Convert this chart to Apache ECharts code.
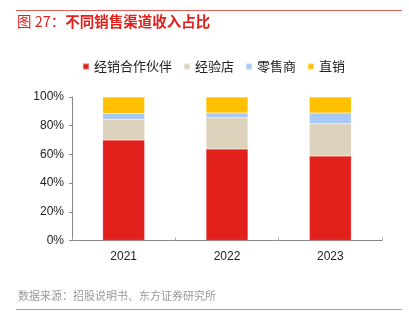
<!DOCTYPE html>
<html>
<head>
<meta charset="utf-8">
<script src="https://cdn.jsdelivr.net/npm/echarts@6/dist/echarts.min.js"></script>
<style>
  html, body { margin: 0; padding: 0; background: #fff; }
  #chart { width: 409px; height: 331px; }
</style>
</head>
<body>
<div id="chart"></div>
<script>
// 不同销售渠道收入占比 (%)
const years = ['2021', '2022', '2023'];
const dealerPartners = [70.0, 63.8, 58.9];   // 经销合作伙伴
const experienceStores = [14.5, 21.8, 22.5]; // 经验店
const retailers = [4.1, 3.3, 7.5];           // 零售商
const directSales = [11.4, 11.1, 11.1];      // 直销
const yTicks = [0, 20, 40, 60, 80, 100];

const seriesNames = ['经销合作伙伴', '经验店', '零售商', '直销'];
const seriesData = [dealerPartners, experienceStores, retailers, directSales];
const colors = ['#E2211C', '#DDD3BD', '#A8C9F6', '#FFC000'];

const fontCN = '"Noto Sans CJK SC", "Noto Sans", sans-serif';
const fontNum = '"Liberation Sans", Arial, sans-serif';

const chart = echarts.init(document.getElementById('chart'));
chart.setOption({
  animation: false,
  backgroundColor: '#fff',
  color: colors,
  legend: {
    top: 55,
    left: 77,
    itemWidth: 6,
    itemHeight: 6,
    itemGap: 11,
    icon: 'rect',
    textStyle: { fontFamily: fontCN, fontSize: 13, color: '#222' },
    data: seriesNames
  },
  grid: { left: 72, right: 27, top: 97, bottom: 90.5 },
  xAxis: {
    type: 'category',
    data: years,
    axisLine: { lineStyle: { color: '#888', width: 1 } },
    axisTick: { show: true, inside: true, length: 3, lineStyle: { color: '#aaa' } },
    axisLabel: { fontFamily: fontNum, fontSize: 12, color: '#222', margin: 10 }
  },
  yAxis: {
    type: 'value',
    min: yTicks[0],
    max: yTicks[yTicks.length - 1],
    interval: 20,
    splitLine: { show: false },
    axisLine: { show: true, lineStyle: { color: '#888', width: 1 } },
    axisTick: { show: true, length: 3, lineStyle: { color: '#888' } },
    axisLabel: { fontFamily: fontNum, fontSize: 12, color: '#222', margin: 8, formatter: '{value}%' }
  },
  series: seriesNames.map((name, i) => ({
    name,
    type: 'bar',
    stack: 'total',
    barWidth: 42,
    data: seriesData[i],
    itemStyle: { color: colors[i], borderColor: 'rgba(255,255,255,0.35)', borderWidth: 0.5 }
  })),
  graphic: [
    { type: 'line', shape: { x1: 16, y1: 10.5, x2: 402, y2: 10.5 }, style: { stroke: '#E85B57', lineWidth: 1 } },
    {
      type: 'text', left: 17, top: 14,
      style: {
        text: '{a|图 27：}{b|不同销售渠道收入占比}',
        rich: {
          a: { fill: '#E2211C', fontFamily: fontCN, fontSize: 14.5, fontWeight: 'normal' },
          b: { fill: '#E2211C', fontFamily: fontCN, fontSize: 14.5, fontWeight: 'bold' }
        }
      }
    },
    { type: 'text', left: 18, top: 290, style: { text: '数据来源：招股说明书、东方证券研究所', fill: '#999', font: '11px ' + fontCN } },
    { type: 'line', shape: { x1: 16, y1: 309.5, x2: 402, y2: 309.5 }, style: { stroke: '#E8877F', lineWidth: 1 } }
  ]
});
</script>
</body>
</html>
